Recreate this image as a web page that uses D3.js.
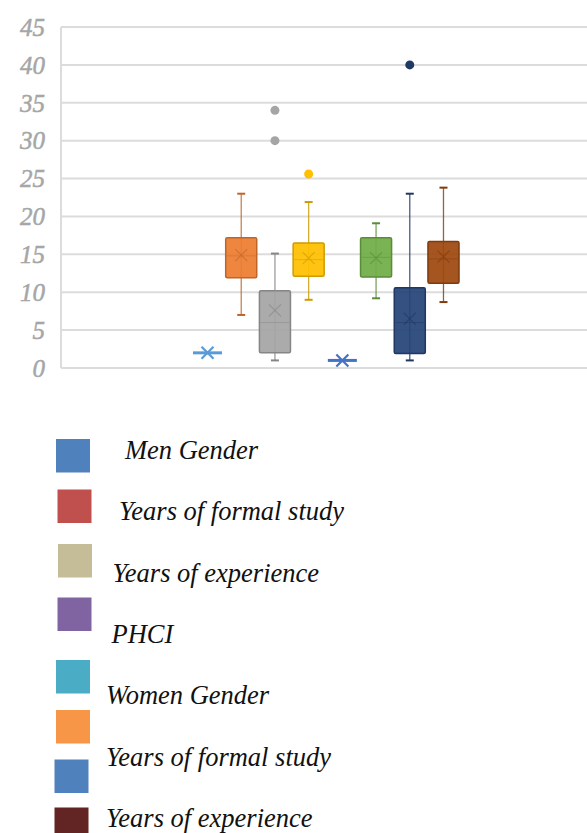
<!DOCTYPE html>
<html>
<head>
<meta charset="utf-8">
<script src="https://cdn.jsdelivr.net/npm/d3@7"></script>
<style>
  html, body { margin: 0; padding: 0; background: #ffffff; }
  svg { display: block; }
</style>
</head>
<body>
<div id="chart"></div>
<script>
// Box-plot series (men then women)
const seriesNames = ["Men Gender", "Years of formal study (men)", "Years of experience (men)", "PHCI (men)",
                     "Women Gender", "Years of formal study (women)", "Years of experience (women)", "PHCI (women)"];
const seriesColors = ["#5B9BD5", "#ED7D31", "#A5A5A5", "#FFC000", "#4472C4", "#70AD47", "#264478", "#9E480E"];
const minValues    = [2, 7,   1,  9,    1, 9.2,  1,   8.7];
const q1Values     = [2, 11.9, 2, 12.1, 1, 12,   1.9, 11.2];
const medianValues = [2, 14.8, 6, 14.3, 1, 14.6, 6,   14.4];
const q3Values     = [2, 17.2, 10.2, 16.5, 1, 17.2, 10.6, 16.7];
const maxValues    = [2, 23,   15.1, 21.9, 1, 19.1, 23,  23.8];
const meanValues   = [2, 14.9, 7.6, 14.5, 1, 14.5, 6.5, 14.7];
const outlierValues = [[], [], [30, 34], [25.6], [], [], [40], []];

// Axis ticks
const yTicks = [0, 5, 10, 15, 20, 25, 30, 35, 40, 45];

// Legend entries
const legendLabels = ["Men Gender", "Years of formal study", "Years of experience", "PHCI",
                      "Women Gender", "Years of formal study", "Years of experience"];
const legendColors = ["#4F81BD", "#C0504D", "#C4BD97", "#8064A2", "#4BACC6", "#F79646", "#4F81BD", "#632523"];

const SERIF = '"Liberation Serif", "Times New Roman", serif';
const W = 587, H = 833;
const svg = d3.select("#chart").append("svg").attr("width", W).attr("height", H);

const plot = { left: 61, right: 587, top: 27, bottom: 368 };

const y = d3.scaleLinear().domain([0, 45]).range([plot.bottom, plot.top]);
const x = d3.scaleBand().domain(d3.range(seriesNames.length)).range([191, 460]).paddingInner(0.02);

// Gridlines
svg.append("g").selectAll("line").data(yTicks).join("line")
  .attr("x1", plot.left).attr("x2", plot.right)
  .attr("y1", d => y(d)).attr("y2", d => y(d))
  .attr("stroke", "#DCDCDC").attr("stroke-width", 2);

// Vertical axis line
svg.append("line")
  .attr("x1", plot.left).attr("x2", plot.left)
  .attr("y1", plot.top).attr("y2", plot.bottom)
  .attr("stroke", "#DCDCDC").attr("stroke-width", 2);

// Tick labels
svg.append("g").selectAll("text").data(yTicks).join("text")
  .attr("x", 45).attr("y", d => y(d))
  .attr("dy", "0.35em")
  .attr("text-anchor", "end")
  .style("font-family", SERIF)
  .style("font-style", "italic")
  .style("font-size", "25px")
  .attr("fill", "#A6A6A6")
  .attr("stroke", "#A6A6A6").attr("stroke-width", 0.5)
  .text(d => d);

const boxes = svg.append("g");
seriesNames.forEach((name, i) => {
  const c = seriesColors[i];
  const dark = d3.color(c).darker(0.6).formatHex();
  const cx = x(i) + x.bandwidth() / 2;
  const bw = x.bandwidth();
  const g = boxes.append("g");
  const collapsed = q1Values[i] === q3Values[i];

  if (collapsed) {
    // Degenerate box: a flat line with the mean marker crossing it
    g.append("line")
      .attr("x1", cx - bw / 2 + 2).attr("x2", cx + bw / 2 - 2)
      .attr("y1", y(medianValues[i])).attr("y2", y(medianValues[i]))
      .attr("stroke", c).attr("stroke-width", 3);
    const s = 6;
    const my = y(meanValues[i]);
    g.append("path")
      .attr("d", `M${cx - s},${my - s}L${cx + s},${my + s}M${cx - s},${my + s}L${cx + s},${my - s}`)
      .attr("stroke", c).attr("stroke-width", 2.2).attr("fill", "none");
    return;
  }

  // Whisker line
  g.append("line")
    .attr("x1", cx).attr("x2", cx)
    .attr("y1", y(minValues[i])).attr("y2", y(maxValues[i]))
    .attr("stroke", dark).attr("stroke-width", 1.3).attr("opacity", 0.8);
  // Caps
  [minValues[i], maxValues[i]].forEach(v => {
    g.append("line")
      .attr("x1", cx - 4).attr("x2", cx + 4)
      .attr("y1", y(v)).attr("y2", y(v))
      .attr("stroke", dark).attr("stroke-width", 2);
  });
  // Box
  g.append("rect")
    .attr("x", cx - bw / 2 + 1).attr("width", bw - 2)
    .attr("y", y(q3Values[i])).attr("height", y(q1Values[i]) - y(q3Values[i]))
    .attr("fill", c).attr("fill-opacity", 0.93)
    .attr("stroke", dark).attr("stroke-width", 1.5).attr("rx", 1.5);
  // Median
  g.append("line")
    .attr("x1", cx - bw / 2 + 2).attr("x2", cx + bw / 2 - 2)
    .attr("y1", y(medianValues[i])).attr("y2", y(medianValues[i]))
    .attr("stroke", dark).attr("stroke-width", 1).attr("opacity", 0.45);
  // Mean marker
  const s = 6;
  const my = y(meanValues[i]);
  g.append("path")
    .attr("d", `M${cx - s},${my - s}L${cx + s},${my + s}M${cx - s},${my + s}L${cx + s},${my - s}`)
    .attr("stroke", dark).attr("stroke-width", 1.3).attr("fill", "none").attr("opacity", 0.6);
  // Outliers
  g.selectAll("circle").data(outlierValues[i]).join("circle")
    .attr("cx", cx).attr("cy", d => y(d)).attr("r", 4.5)
    .attr("fill", c === "#264478" ? "#1F3864" : c);
});

// Legend
const legendSquares = [
  { x: 56, y: 439 }, { x: 57.5, y: 489.5 }, { x: 58, y: 544 }, { x: 57.5, y: 597.5 },
  { x: 56, y: 660 }, { x: 56, y: 710 }, { x: 54.5, y: 759.5 }, { x: 54.5, y: 807.5 }
];
const legendText = [
  { x: 125, y: 459 }, { x: 119, y: 520 }, { x: 112.5, y: 581.5 }, { x: 111.5, y: 643 },
  { x: 106, y: 704 }, { x: 106, y: 765.5 }, { x: 106, y: 826.5 }
];
const lg = svg.append("g");
lg.selectAll("rect").data(legendColors).join("rect")
  .attr("x", (d, i) => legendSquares[i].x).attr("y", (d, i) => legendSquares[i].y)
  .attr("width", 34).attr("height", 33.5)
  .attr("fill", d => d);
lg.selectAll("text").data(legendLabels).join("text")
  .attr("x", (d, i) => legendText[i].x).attr("y", (d, i) => legendText[i].y)
  .style("font-family", SERIF)
  .style("font-style", "italic")
  .style("font-size", "26.5px")
  .attr("fill", "#111111")
  .text(d => d);
</script>
</body>
</html>
